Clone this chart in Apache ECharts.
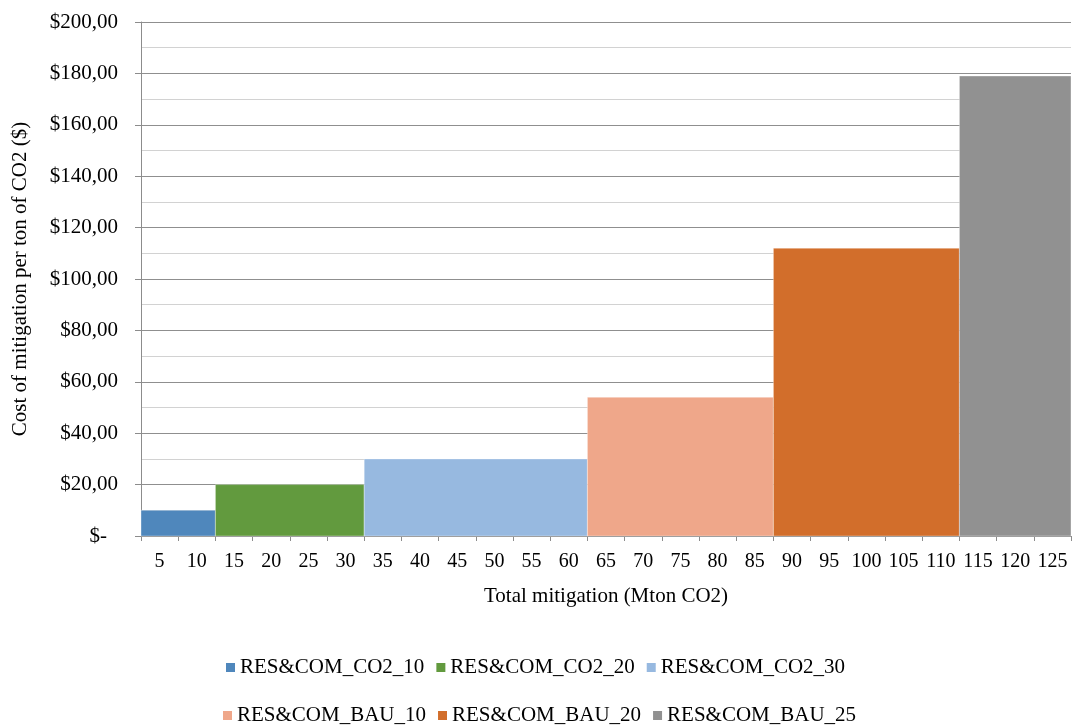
<!DOCTYPE html>
<html>
<head>
<meta charset="utf-8">
<title>Cost of mitigation</title>
<script src="https://cdn.jsdelivr.net/npm/echarts@6/dist/echarts.min.js"></script>
<style>
  html, body { margin: 0; padding: 0; background: #fff; }
  #chart { width: 1072px; height: 725px; }
</style>
</head>
<body>
<div id="chart"></div>
<script>
// X tick labels: cumulative mitigation in Mton CO2
const categories = ['5','10','15','20','25','30','35','40','45','50','55','60','65',
  '70','75','80','85','90','95','100','105','110','115','120','125'];
// Measures, their cost per ton and the cumulative mitigation where each one ends
const seriesNames = ['RES&COM_CO2_10','RES&COM_CO2_20','RES&COM_CO2_30',
  'RES&COM_BAU_10','RES&COM_BAU_20','RES&COM_BAU_25'];
const costs = [10, 20, 30, 54, 112, 179];
const mitigationEnd = [10, 30, 60, 85, 110, 125];
const colors = ['#4F87BC','#629A3E','#97B9E0','#EFA78A','#D26E2B','#919191'];

const FONT = "'Liberation Serif', 'Times New Roman', serif";

// Each measure is one block spanning [previous end, own end] on the mitigation scale
function renderBlock(params, api) {
  const p0 = api.coord([api.value(0), 0]);
  const p1 = api.coord([api.value(1), api.value(2)]);
  return {
    type: 'rect',
    shape: { x: p0[0], y: p1[1], width: p1[0] - p0[0], height: p0[1] - p1[1] },
    style: { fill: api.visual('color'), stroke: 'rgba(255,255,255,0.35)', lineWidth: 1 }
  };
}

const series = seriesNames.map((name, i) => ({
  name: name,
  type: 'custom',
  xAxisIndex: 1,
  yAxisIndex: 0,
  renderItem: renderBlock,
  data: [[i === 0 ? 0 : mitigationEnd[i - 1], mitigationEnd[i], costs[i]]],
  encode: { x: [0, 1], y: 2 },
  itemStyle: { color: colors[i] },
  emphasis: { disabled: true }
}));

const legendText = { fontFamily: FONT, fontSize: 21, color: '#000' };

const option = {
  animation: false,
  textStyle: { fontFamily: FONT },
  grid: { left: 141, right: 1, top: 22, bottom: 189, containLabel: false },
  legend: [
    {
      data: seriesNames.slice(0, 3),
      left: 221, top: 652,
      itemWidth: 9, itemHeight: 9, itemGap: 12,
      icon: 'rect',
      textStyle: legendText
    },
    {
      data: seriesNames.slice(3),
      left: 218, top: 700,
      itemWidth: 9, itemHeight: 9, itemGap: 12,
      icon: 'rect',
      textStyle: legendText
    }
  ],
  xAxis: [
    {
      type: 'category',
      data: categories,
      name: 'Total mitigation (Mton CO2)',
      nameLocation: 'middle',
      nameGap: 50,
      nameTextStyle: { fontFamily: FONT, fontSize: 21, color: '#000' },
      axisLine: { lineStyle: { color: '#8c8c8c', width: 1 } },
      axisTick: { show: true, length: 5, lineStyle: { color: '#8c8c8c' } },
      axisLabel: { fontFamily: FONT, fontSize: 20, color: '#000', margin: 16, interval: 0 }
    },
    {
      // continuous mitigation scale underneath the category labels
      type: 'value',
      min: 0, max: 125,
      show: false
    }
  ],
  yAxis: {
    type: 'value',
    min: 0, max: 200, interval: 20,
    name: 'Cost of mitigation per ton of CO2 ($)',
    nameLocation: 'middle',
    nameGap: 110,
    nameTextStyle: { fontFamily: FONT, fontSize: 21, color: '#000' },
    axisLine: { show: true, lineStyle: { color: '#8c8c8c', width: 1 } },
    axisTick: { show: true, length: 6, lineStyle: { color: '#8c8c8c' } },
    minorTick: { show: false, splitNumber: 2 },
    splitLine: { show: true, lineStyle: { color: '#8f8f8f', width: 1 } },
    minorSplitLine: { show: true, lineStyle: { color: '#d2d2d2', width: 1 } },
    axisLabel: {
      fontFamily: FONT, fontSize: 21, color: '#000', margin: 23,
      formatter: v => v === 0 ? '$-{pad|}' : '$' + v.toFixed(2).replace('.', ','),
      rich: { pad: { width: 11 } }
    }
  },
  series: series
};

const chart = echarts.init(document.getElementById('chart'), null, { renderer: 'canvas' });
chart.setOption(option);
</script>
</body>
</html>
